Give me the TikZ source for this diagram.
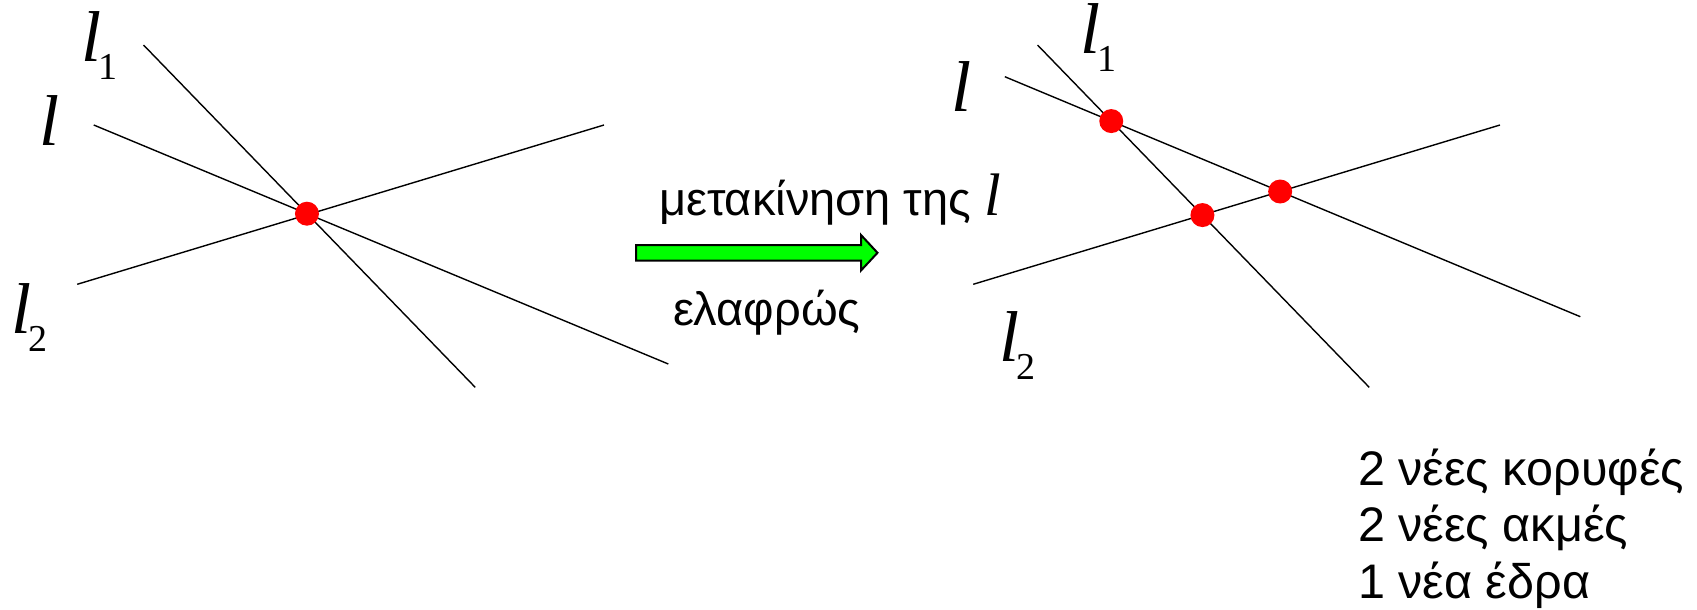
\documentclass[tikz,border=0pt]{standalone}
\usepackage{fontspec}
\setmainfont{Liberation Sans}
\newfontfamily\timesfont{Liberation Serif}
\newcommand{\ellsym}{{\fontsize{72}{72}\selectfont\timesfont\itshape l}}
\newcommand{\ellsub}[1]{\ellsym\kern-3pt\raisebox{-18pt}{\fontsize{38}{38}\selectfont\timesfont #1}}
\definecolor{brightgreen}{RGB}{0,255,0}
\tikzset{
  geoline/.style={line width=1.4pt, black},
  vdot/.style={circle, fill=red, inner sep=0pt, minimum size=24pt},
  lbl/.style={anchor=base west, inner sep=0pt, outer sep=0pt},
  txt/.style={anchor=base west, inner sep=0pt, outer sep=0pt, font=\fontsize{47}{57}\selectfont},
  sumtxt/.style={anchor=base west, inner sep=0pt, outer sep=0pt, font=\fontsize{48.5}{57}\selectfont},
}
\begin{document}
\begin{tikzpicture}[x=1pt, y=-1pt]
\useasboundingbox (0,0) rectangle (1697,610);
% left configuration
\coordinate (Aa) at (143.5,45);
\coordinate (Ab) at (475.2,387.3);
\coordinate (Ba) at (93.75,125);
\coordinate (Bb) at (668.3,364);
\coordinate (Ca) at (77.2,284.3);
\coordinate (Cb) at (604,125);
\draw[geoline] (Aa) -- (Ab);
\draw[geoline] (Ba) -- (Bb);
\draw[geoline] (Ca) -- (Cb);
\node[vdot] (d0) at (intersection of Ba--Bb and Aa--Ab) {};
\node[lbl] (la1) at (81,61.7) {\ellsub{1}};
\node[lbl] (la) at (39,145) {\ellsym};
\node[lbl] (la2) at (11,333.3) {\ellsub{2}};
% arrow
\draw[line width=2pt, fill=brightgreen, line join=miter]
  (636,245) -- (861,245) -- (861,235) -- (877.5,252.8) -- (861,270.5) -- (861,260.7) -- (636,260.7) -- cycle;
\node[txt] (t1) at (659,215) {μετακίνηση της {\fontsize{60}{60}\selectfont\timesfont\itshape l}};
\node[txt] (t2) at (673,325) {ελαφρώς};
% right configuration
\coordinate (Pa) at (1037.5,45);
\coordinate (Pb) at (1369.2,387.3);
\coordinate (Qa) at (1004.8,76.7);
\coordinate (Qb) at (1580.3,316.7);
\coordinate (Ra) at (973.2,284.3);
\coordinate (Rb) at (1500,125);
\draw[geoline] (Pa) -- (Pb);
\draw[geoline] (Qa) -- (Qb);
\draw[geoline] (Ra) -- (Rb);
\node[vdot] (d1) at (intersection of Pa--Pb and Qa--Qb) {};
\node[vdot] (d2) at (intersection of Qa--Qb and Ra--Rb) {};
\node[vdot] (d3) at (intersection of Pa--Pb and Ra--Rb) {};
\node[lbl] (lb1) at (1080.5,53.3) {\ellsub{1}};
\node[lbl] (lb) at (951.5,111.7) {\ellsym};
\node[lbl] (lb2) at (999,361.7) {\ellsub{2}};
% summary text
\node[sumtxt] (s1) at (1358,485) {2 νέες κορυφές};
\node[sumtxt] (s2) at (1358,541.5) {2 νέες ακμές};
\node[sumtxt] (s3) at (1358,598) {1 νέα έδρα};
\end{tikzpicture}
\end{document}
